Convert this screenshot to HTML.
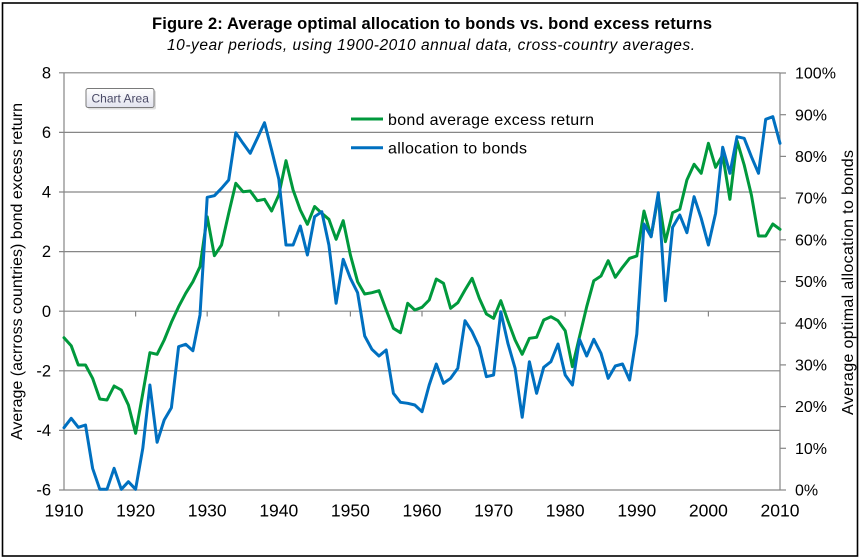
<!DOCTYPE html>
<html>
<head>
<meta charset="utf-8">
<style>
  html, body { margin: 0; padding: 0; background: #ffffff; }
  body { width: 862px; height: 558px; overflow: hidden; }
  svg { display: block; font-family: "Liberation Sans", Arial, sans-serif; }
</style>
</head>
<body>
<svg width="862" height="558" viewBox="0 0 862 558" xmlns="http://www.w3.org/2000/svg">
  <defs>
    <linearGradient id="tip" x1="0" y1="0" x2="0" y2="1">
      <stop offset="0" stop-color="#ffffff"/>
      <stop offset="1" stop-color="#e2e3ee"/>
    </linearGradient>
  </defs>
  <rect x="0" y="0" width="862" height="558" fill="#ffffff"/>
  <!-- outer frame -->
  <rect x="2.5" y="3" width="855" height="553" fill="none" stroke="#000" stroke-width="1.6"/>

  <!-- title -->
  <text x="432" y="29" text-anchor="middle" font-size="16.5" font-weight="bold" textLength="560" lengthAdjust="spacing">Figure 2: Average optimal allocation to bonds vs. bond excess returns</text>
  <text x="431" y="50" text-anchor="middle" font-size="15.5" font-style="italic" textLength="528" lengthAdjust="spacing">10-year periods, using 1900-2010 annual data, cross-country averages.</text>

  <!-- gridlines -->
  <g stroke="#868686" stroke-width="1.2">
    <line x1="59" y1="72.8" x2="780" y2="72.8"/>
    <line x1="59" y1="132.4" x2="780" y2="132.4"/>
    <line x1="59" y1="192" x2="780" y2="192"/>
    <line x1="59" y1="251.6" x2="780" y2="251.6"/>
    <line x1="59" y1="311.2" x2="780" y2="311.2"/>
    <line x1="59" y1="370.8" x2="780" y2="370.8"/>
    <line x1="59" y1="430.4" x2="780" y2="430.4"/>
    <line x1="59" y1="490" x2="780" y2="490"/>
    <!-- axes -->
    <line x1="64" y1="72.8" x2="64" y2="490"/>
    <line x1="780" y1="72.8" x2="780" y2="490"/>
    <!-- right ticks -->
    <line x1="780" y1="73" x2="786" y2="73"/>
    <line x1="780" y1="114.7" x2="786" y2="114.7"/>
    <line x1="780" y1="156.4" x2="786" y2="156.4"/>
    <line x1="780" y1="198.1" x2="786" y2="198.1"/>
    <line x1="780" y1="239.8" x2="786" y2="239.8"/>
    <line x1="780" y1="281.5" x2="786" y2="281.5"/>
    <line x1="780" y1="323.2" x2="786" y2="323.2"/>
    <line x1="780" y1="364.9" x2="786" y2="364.9"/>
    <line x1="780" y1="406.6" x2="786" y2="406.6"/>
    <line x1="780" y1="448.3" x2="786" y2="448.3"/>
    <line x1="780" y1="490" x2="786" y2="490"/>
    <!-- x ticks on zero line -->
    <line x1="135.6" y1="311.2" x2="135.6" y2="316.5"/>
    <line x1="207.2" y1="311.2" x2="207.2" y2="316.5"/>
    <line x1="278.8" y1="311.2" x2="278.8" y2="316.5"/>
    <line x1="350.4" y1="311.2" x2="350.4" y2="316.5"/>
    <line x1="422" y1="311.2" x2="422" y2="316.5"/>
    <line x1="493.6" y1="311.2" x2="493.6" y2="316.5"/>
    <line x1="565.2" y1="311.2" x2="565.2" y2="316.5"/>
    <line x1="636.8" y1="311.2" x2="636.8" y2="316.5"/>
    <line x1="708.4" y1="311.2" x2="708.4" y2="316.5"/>
  </g>

  <!-- left labels -->
  <g font-size="16.5" text-anchor="end" fill="#000">
    <text x="51" y="78.5">8</text>
    <text x="51" y="138">6</text>
    <text x="51" y="197.6">4</text>
    <text x="51" y="257.2">2</text>
    <text x="51" y="316.8">0</text>
    <text x="51" y="376.4">-2</text>
    <text x="51" y="436">-4</text>
    <text x="51" y="495.6">-6</text>
  </g>
  <!-- right labels -->
  <g font-size="16" text-anchor="start" fill="#000">
    <text x="795" y="78.6">100%</text>
    <text x="795" y="120.3">90%</text>
    <text x="795" y="162">80%</text>
    <text x="795" y="203.7">70%</text>
    <text x="795" y="245.4">60%</text>
    <text x="795" y="287.1">50%</text>
    <text x="795" y="328.8">40%</text>
    <text x="795" y="370.5">30%</text>
    <text x="795" y="412.2">20%</text>
    <text x="795" y="453.9">10%</text>
    <text x="795" y="495.6">0%</text>
  </g>
  <!-- x labels -->
  <g font-size="17.5" text-anchor="middle" fill="#000">
    <text x="64" y="516.7">1910</text>
    <text x="135.6" y="516.7">1920</text>
    <text x="207.2" y="516.7">1930</text>
    <text x="278.8" y="516.7">1940</text>
    <text x="350.4" y="516.7">1950</text>
    <text x="422" y="516.7">1960</text>
    <text x="493.6" y="516.7">1970</text>
    <text x="565.2" y="516.7">1980</text>
    <text x="636.8" y="516.7">1990</text>
    <text x="708.4" y="516.7">2000</text>
    <text x="780" y="516.7">2010</text>
  </g>

  <!-- axis titles -->
  <text transform="translate(22,271.5) rotate(-90)" text-anchor="middle" font-size="16" textLength="337" lengthAdjust="spacing">Average  (acrross countries) bond excess return</text>
  <text transform="translate(853,282.5) rotate(-90)" text-anchor="middle" font-size="16" textLength="265" lengthAdjust="spacing">Average optimal  allocation to bonds</text>

  <!-- green series -->
  <polyline fill="none" stroke="#00993C" stroke-width="3" stroke-linejoin="round" stroke-linecap="round" points="
64,337.7 71.2,345.7 78.3,365 85.5,365 92.6,378.3 99.8,399 107,400 114.1,386 121.3,390 128.4,405
135.6,433.3 142.8,393.3 149.9,352.7 157.1,354.3 164.2,340 171.4,322.3 178.6,306.7 185.7,293.3 192.9,281.7 200,266.7
207.2,216.7 214.4,255.7 221.5,245 228.7,213.3 235.8,183.3 243,191.7 250.2,191 257.3,200.7 264.5,199.3 271.6,211
278.8,195 286,160.7 293.1,190 300.3,210 307.4,224.3 314.6,206.5 321.8,213.3 328.9,219.3 336.1,239.3 343.2,220.7
350.4,255 357.6,281.7 364.7,294 371.9,292.7 379,290.7 386.2,310 393.4,328.3 400.5,332.7 407.7,303.3 414.8,310
422,307.3 429.2,300 436.3,279 443.5,283.3 450.6,308.3 457.8,302.7 465,290 472.1,278.3 479.3,298.3 486.4,314
493.6,318.3 500.8,300.7 507.9,320.7 515.1,340 522.2,354.3 529.4,338.3 536.6,337.3 543.7,320 550.9,316.7 558,320.7
565.2,330.7 572.4,366.7 579.5,336.7 586.7,306.7 593.8,280.7 601,276 608.2,260.7 615.3,277.3 622.5,267.3 629.6,258.3
636.8,256 644,211 651.1,236.7 658.3,196 665.4,241.7 672.6,212.7 679.8,209.3 686.9,180 694.1,164.3 701.2,173.3
708.4,143.3 715.6,167.3 722.7,155 729.9,199.3 737,140.7 744.2,165 751.4,195 758.5,236 765.7,236 772.8,224
780,229.3"/>

  <!-- blue series -->
  <polyline fill="none" stroke="#0070C0" stroke-width="3" stroke-linejoin="round" stroke-linecap="round" points="
64,427.7 71.2,418.3 78.3,427.3 85.5,425 92.6,468.3 99.8,489.3 107,489.3 114.1,468.3 121.3,489.3 128.4,481.7
135.6,489.3 142.8,448.3 149.9,385 157.1,442.3 164.2,420 171.4,407.7 178.6,346.7 185.7,344.3 192.9,350.7 200,315
207.2,197.3 214.4,195.7 221.5,188.3 228.7,180 235.8,132.7 243,143.3 250.2,153.3 257.3,138.3 264.5,122.7 271.6,150
278.8,179 286,245 293.1,245 300.3,226 307.4,255 314.6,216.7 321.8,211.7 328.9,245 336.1,303.3 343.2,259.3
350.4,278.3 357.6,292.7 364.7,336 371.9,349.3 379,356 386.2,350 393.4,393.3 400.5,402.3 407.7,403.3 414.8,405
422,411.7 429.2,385 436.3,364 443.5,383.3 450.6,378.3 457.8,368.3 465,320.7 472.1,331.7 479.3,347.3 486.4,376.7
493.6,375 500.8,311.7 507.9,343.3 515.1,368.3 522.2,417.3 529.4,361.7 536.6,393.3 543.7,367.3 550.9,361.7 558,344
565.2,375 572.4,385 579.5,339.3 586.7,356 593.8,339.3 601,353.3 608.2,378.3 615.3,366 622.5,364 629.6,380
636.8,334 644,224 651.1,236.7 658.3,192.7 665.4,300.7 672.6,227.3 679.8,215 686.9,232.7 694.1,196.7 701.2,218.3
708.4,245 715.6,213.3 722.7,147.3 729.9,173.3 737,136.7 744.2,138.3 751.4,156.7 758.5,173.3 765.7,119.3 772.8,116.7
780,143.3"/>

  <!-- legend -->
  <line x1="351" y1="119" x2="383" y2="119" stroke="#00993C" stroke-width="3"/>
  <line x1="351" y1="147.7" x2="383" y2="147.7" stroke="#0070C0" stroke-width="3"/>
  <text x="388" y="125" font-size="16" textLength="206" lengthAdjust="spacing">bond average excess return</text>
  <text x="388" y="153.5" font-size="16" textLength="139" lengthAdjust="spacing">allocation to bonds</text>

  <!-- Chart Area tooltip -->
  <rect x="88" y="90.5" width="68" height="19" rx="2" fill="#c8c8c8" opacity="0.6"/>
  <rect x="86" y="88.5" width="68" height="19" rx="2" fill="url(#tip)" stroke="#7a7a7a" stroke-width="1"/>
  <text x="91.5" y="102.5" font-size="12" fill="#4a4a66">Chart Area</text>
</svg>
</body>
</html>
